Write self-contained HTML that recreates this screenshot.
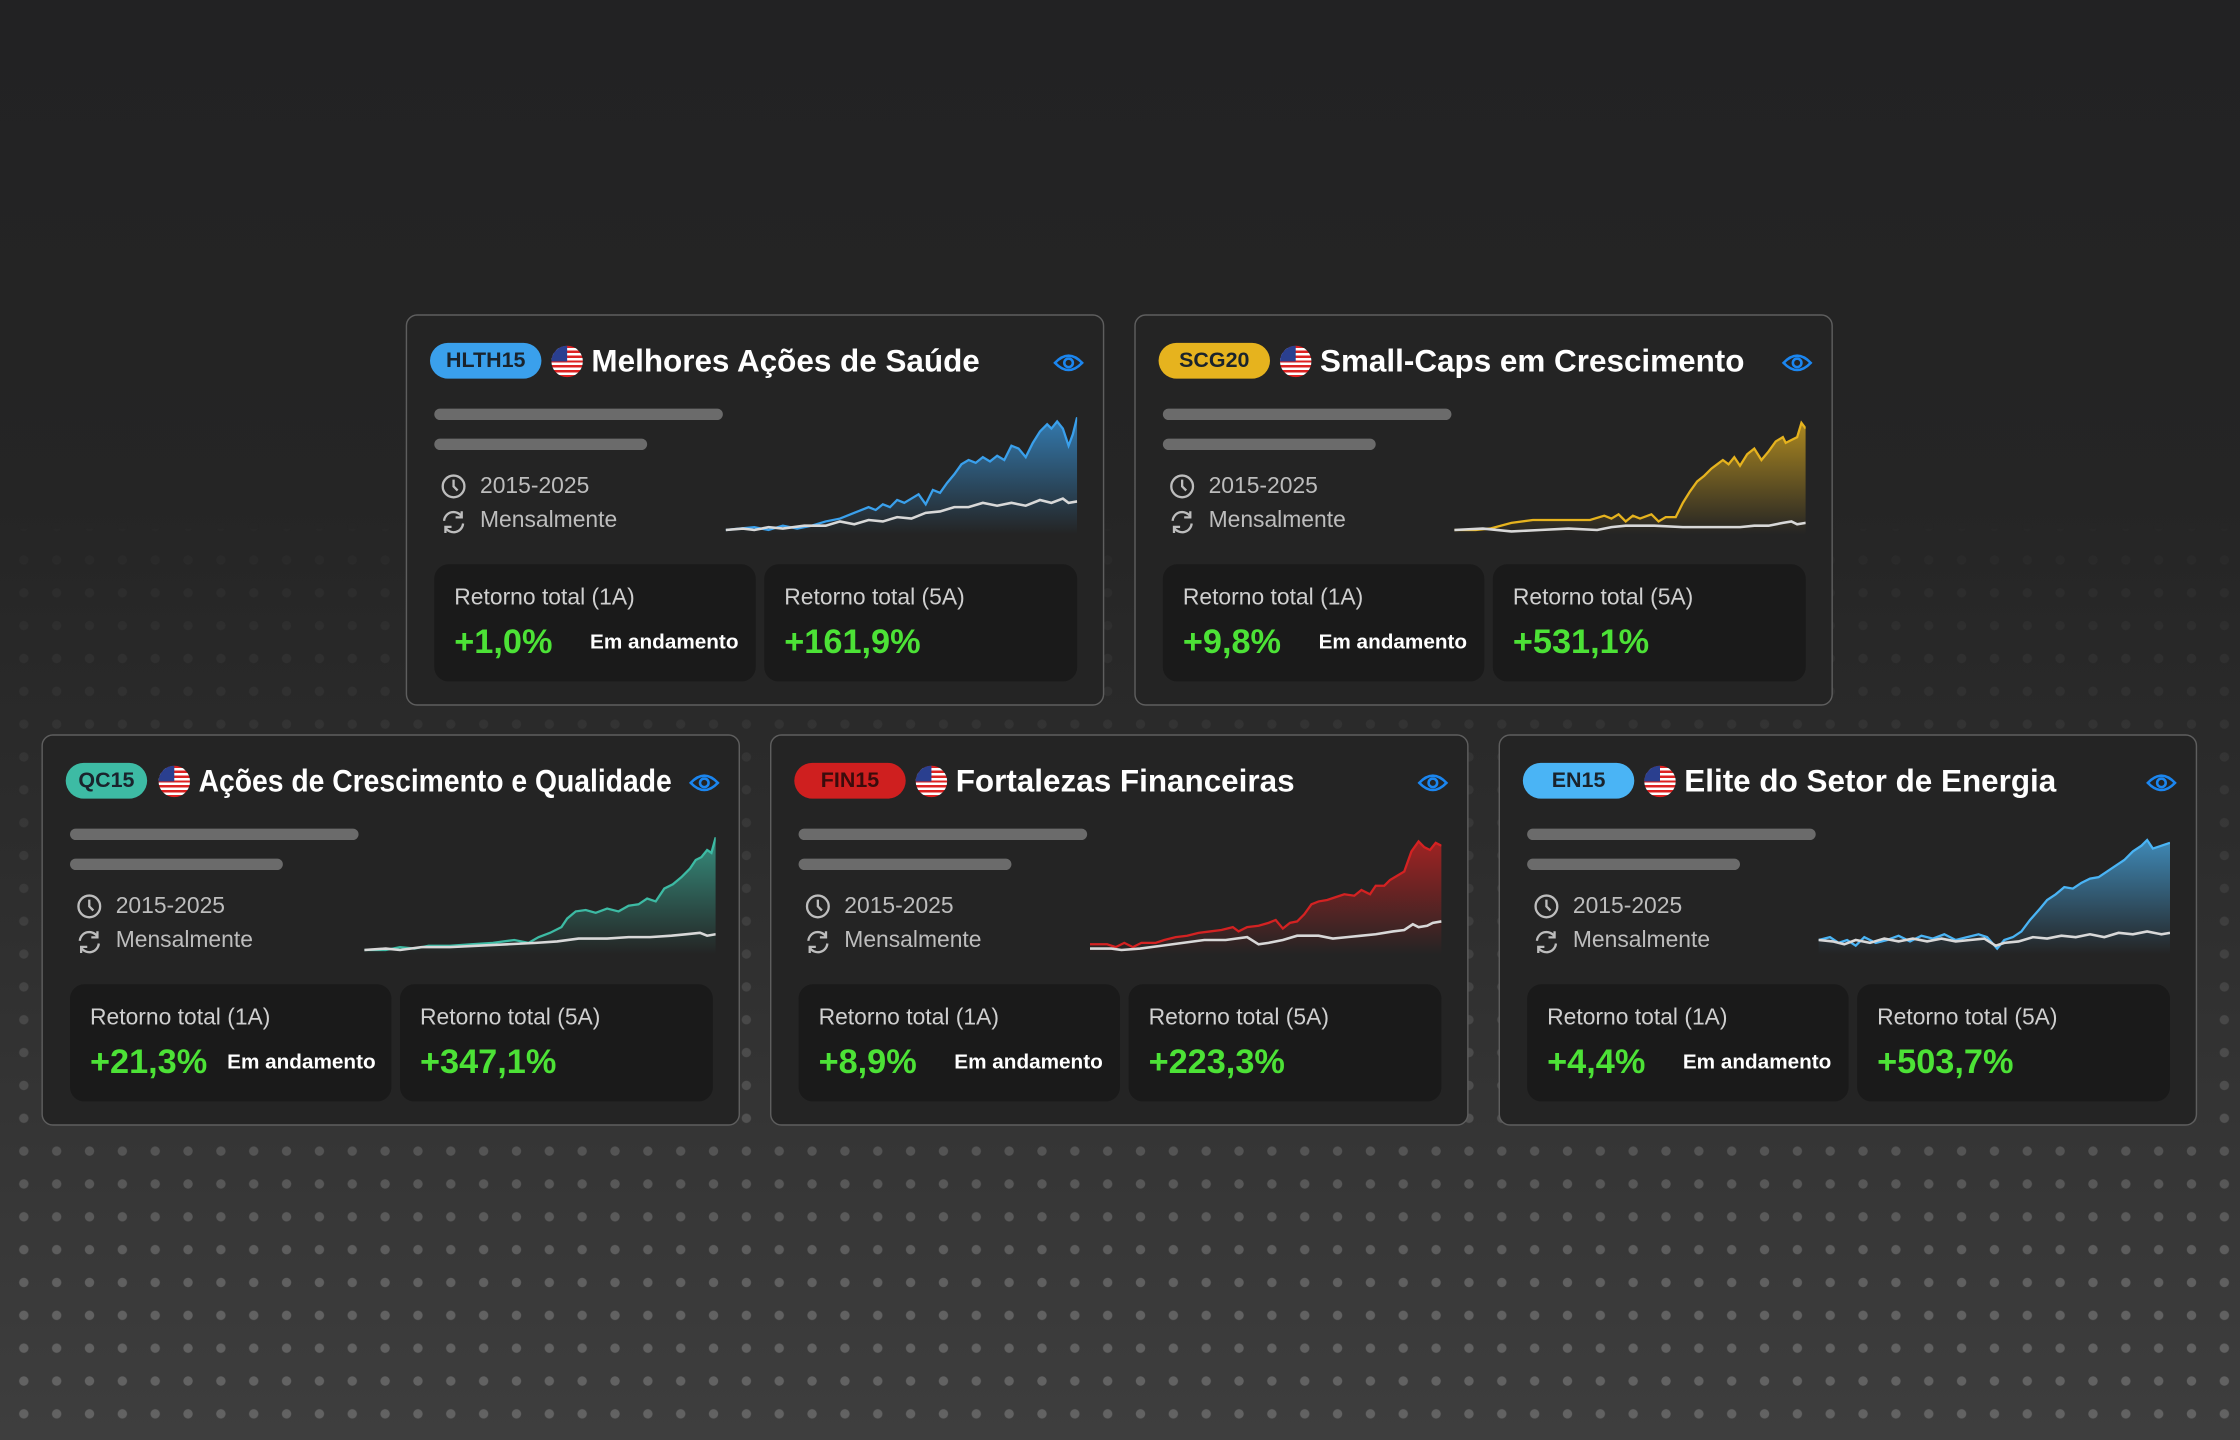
<!DOCTYPE html>
<html><head><meta charset="utf-8">
<style>
html,body{margin:0;padding:0;width:2240px;height:1440px;overflow:hidden;}
body{background:linear-gradient(180deg,#222223 0%,#252525 35%,#2d2d2d 60%,#3e3e3e 100%);font-family:"Liberation Sans",Arial,sans-serif;}
#dots{position:absolute;left:0;top:0;width:2240px;height:1440px;
background-image:radial-gradient(circle,rgba(130,130,130,0.55) 0,rgba(130,130,130,0.55) 4.3px,transparent 5px);
background-size:32.857px 32.857px;background-position:7.4px 18px;
-webkit-mask-image:linear-gradient(180deg,transparent 0,transparent 510px,rgba(0,0,0,0.12) 580px,rgba(0,0,0,0.3) 900px,rgba(0,0,0,0.75) 1150px,#000 1300px);
mask-image:linear-gradient(180deg,transparent 0,transparent 510px,rgba(0,0,0,0.12) 580px,rgba(0,0,0,0.3) 900px,rgba(0,0,0,0.75) 1150px,#000 1300px);}
#w{position:absolute;left:0;top:0;width:1568px;height:1008px;transform:scale(1.4285714);transform-origin:0 0;}
.card{position:absolute;width:487px;height:272px;background:#242424;border:1.5px solid #5e5e5e;border-radius:8px;}
.badge{position:absolute;left:16px;top:19px;height:25px;border-radius:13px;font-weight:bold;font-size:15px;line-height:25px;text-align:center;color:#1a232c;}
.flag{position:absolute;left:101px;top:21px;width:22px;height:22px;border-radius:50%;overflow:hidden;
background:repeating-linear-gradient(180deg,#d22 0,#d22 1.7px,#fff 1.7px,#fff 3.4px);}
.flag:after{content:"";position:absolute;left:0;top:0;width:11px;height:11px;background:#2a3f8f;}
.title{position:absolute;left:129px;top:19px;font-size:22px;font-weight:bold;color:#fff;line-height:26px;white-space:nowrap;transform-origin:0 50%;}
.eye{position:absolute;left:452px;top:24px;}
.bar{position:absolute;left:19px;height:8px;border-radius:4px;background:#6b6b6b;}
.meta{position:absolute;left:51px;font-size:16px;color:#bdbdbd;line-height:18px;}
.ic{position:absolute;left:23px;}
.chart{position:absolute;left:223px;top:71px;}
.stat{position:absolute;top:174px;height:82px;background:#1a1a1a;border-radius:10px;}
.lab{position:absolute;left:14px;top:15px;font-size:16px;color:#cfcfcf;line-height:18px;white-space:nowrap;}
.val{position:absolute;left:14px;top:41px;font-size:24px;font-weight:bold;color:#4ce236;line-height:28px;}
.em{position:absolute;left:109px;top:47px;font-size:14.5px;font-weight:bold;color:#fff;line-height:17px;white-space:nowrap;}
</style></head><body>
<div id="dots"></div>
<div id="w">
<svg width="0" height="0" style="position:absolute">
<defs>
<symbol id="eye" viewBox="0 0 22 18"><path d="M1.5 9 Q11 -1 20.5 9 Q11 19 1.5 9 Z" fill="none" stroke="#1b86f0" stroke-width="1.8"/><circle cx="11" cy="9" r="3" fill="none" stroke="#1b86f0" stroke-width="1.8"/></symbol>
<symbol id="clk" viewBox="0 0 20 20"><circle cx="10" cy="10" r="8" fill="none" stroke="#bdbdbd" stroke-width="1.7"/><path d="M10 5 V10 L13 13" fill="none" stroke="#bdbdbd" stroke-width="1.7"/></symbol>
<symbol id="ref" viewBox="0 0 20 20"><path d="M3 9 A7 7 0 0 1 16 6" fill="none" stroke="#bdbdbd" stroke-width="1.7"/><path d="M16 2 V6.5 H11.5" fill="none" stroke="#bdbdbd" stroke-width="1.7"/><path d="M17 11 A7 7 0 0 1 4 14" fill="none" stroke="#bdbdbd" stroke-width="1.7"/><path d="M4 18 V13.5 H8.5" fill="none" stroke="#bdbdbd" stroke-width="1.7"/></symbol>
<linearGradient id="gb" x1="0" y1="0" x2="0" y2="1"><stop offset="0" stop-color="#3aa0ec" stop-opacity="0.7"/><stop offset="1" stop-color="#3aa0ec" stop-opacity="0"/></linearGradient>
<linearGradient id="gy" x1="0" y1="0" x2="0" y2="1"><stop offset="0" stop-color="#e6b31e" stop-opacity="0.7"/><stop offset="1" stop-color="#e6b31e" stop-opacity="0"/></linearGradient>
<linearGradient id="gt" x1="0" y1="0" x2="0" y2="1"><stop offset="0" stop-color="#3dbba4" stop-opacity="0.7"/><stop offset="1" stop-color="#3dbba4" stop-opacity="0"/></linearGradient>
<linearGradient id="gr" x1="0" y1="0" x2="0" y2="1"><stop offset="0" stop-color="#d42222" stop-opacity="0.7"/><stop offset="1" stop-color="#d42222" stop-opacity="0"/></linearGradient>
<linearGradient id="gc" x1="0" y1="0" x2="0" y2="1"><stop offset="0" stop-color="#4ab4f5" stop-opacity="0.7"/><stop offset="1" stop-color="#4ab4f5" stop-opacity="0"/></linearGradient>
</defs></svg>

<!-- Card 1 -->
<div class="card" style="left:284px;top:220px">
<div class="badge" style="width:78px;background:#3aa0ec">HLTH15</div><div class="flag"></div>
<div class="title">Melhores Ações de Saúde</div>
<svg class="eye" width="22" height="18"><use href="#eye"/></svg>
<div class="bar" style="top:65px;width:202px"></div><div class="bar" style="top:86px;width:149px"></div>
<svg class="ic" style="top:110px" width="19" height="19"><use href="#clk"/></svg><div class="meta" style="top:111px">2015-2025</div>
<svg class="ic" style="top:135px" width="19" height="19"><use href="#ref"/></svg><div class="meta" style="top:135px">Mensalmente</div>
<svg class="chart" width="246" height="82"><path d="M0,79 L10,78 20,77 30,79 40,76 50,78 60,76 70,73 80,71 90,67 100,63 105,65 110,61 115,63 120,58 125,60 130,57 135,54 140,61 145,51 150,53 155,46 160,40 165,33 170,30 175,32 180,28 185,31 190,27 195,30 200,20 205,22 210,28 215,18 220,10 225,5 228,8 232,3 236,8 240,20 243,12 246,0 L246,82 L0,82Z" fill="url(#gb)"/><polyline points="0,79 10,78 20,77 30,79 40,76 50,78 60,76 70,73 80,71 90,67 100,63 105,65 110,61 115,63 120,58 125,60 130,57 135,54 140,61 145,51 150,53 155,46 160,40 165,33 170,30 175,32 180,28 185,31 190,27 195,30 200,20 205,22 210,28 215,18 220,10 225,5 228,8 232,3 236,8 240,20 243,12 246,0" fill="none" stroke="#3aa0ec" stroke-width="1.6"/><polyline points="0,79 12,78 20,79 30,77 40,78 55,76 70,76 80,73 90,75 100,72 110,73 120,70 130,71 140,67 150,66 160,63 170,63 180,60 190,62 200,60 210,62 220,58 228,60 236,57 240,60 246,59" fill="none" stroke="#d8d8d8" stroke-width="1.8"/></svg>
<div class="stat" style="left:19px;width:225px"><div class="lab">Retorno total (1A)</div><div class="val">+1,0%</div><div class="em">Em andamento</div></div>
<div class="stat" style="left:250px;width:219px"><div class="lab">Retorno total (5A)</div><div class="val">+161,9%</div></div>
</div>

<!-- Card 2 -->
<div class="card" style="left:794px;top:220px">
<div class="badge" style="width:78px;background:#e6b31e">SCG20</div><div class="flag"></div>
<div class="title">Small-Caps em Crescimento</div>
<svg class="eye" width="22" height="18"><use href="#eye"/></svg>
<div class="bar" style="top:65px;width:202px"></div><div class="bar" style="top:86px;width:149px"></div>
<svg class="ic" style="top:110px" width="19" height="19"><use href="#clk"/></svg><div class="meta" style="top:111px">2015-2025</div>
<svg class="ic" style="top:135px" width="19" height="19"><use href="#ref"/></svg><div class="meta" style="top:135px">Mensalmente</div>
<svg class="chart" width="246" height="82">
<path d="M0,79 L15,79 25,78 40,74 55,72 70,72 95,72 105,69 110,71 115,68 120,73 125,69 130,71 138,68 143,73 148,70 155,70 160,60 165,52 170,45 175,41 180,36 184,33 188,30 192,33 196,28 200,34 205,26 210,22 215,30 220,24 225,17 230,14 232,18 236,16 240,14 243,4 246,8 246,82 L0,82Z" fill="url(#gy)" stroke="none"/>
<polyline points="0,79 15,79 25,78 40,74 55,72 70,72 95,72 105,69 110,71 115,68 120,73 125,69 130,71 138,68 143,73 148,70 155,70 160,60 165,52 170,45 175,41 180,36 184,33 188,30 192,33 196,28 200,34 205,26 210,22 215,30 220,24 225,17 230,14 232,18 236,16 240,14 243,4 246,8" fill="none" stroke="#e6b31e" stroke-width="1.6"/>
<polyline points="0,79 20,78 40,80 60,79 80,78 100,79 110,77 120,76 140,76 160,77 180,77 200,77 210,76 220,76 230,74 236,73 240,75 246,74" fill="none" stroke="#d8d8d8" stroke-width="1.8"/></svg>
<div class="stat" style="left:19px;width:225px"><div class="lab">Retorno total (1A)</div><div class="val">+9,8%</div><div class="em">Em andamento</div></div>
<div class="stat" style="left:250px;width:219px"><div class="lab">Retorno total (5A)</div><div class="val">+531,1%</div></div>
</div>

<!-- Card 3 -->
<div class="card" style="left:29px;top:514px">
<div class="badge" style="width:57px;background:#3dbba4">QC15</div><div class="flag" style="left:81px"></div>
<div class="title" style="left:109px;transform:scaleX(0.9)">Ações de Crescimento e Qualidade</div>
<svg class="eye" width="22" height="18"><use href="#eye"/></svg>
<div class="bar" style="top:65px;width:202px"></div><div class="bar" style="top:86px;width:149px"></div>
<svg class="ic" style="top:110px" width="19" height="19"><use href="#clk"/></svg><div class="meta" style="top:111px">2015-2025</div>
<svg class="ic" style="top:135px" width="19" height="19"><use href="#ref"/></svg><div class="meta" style="top:135px">Mensalmente</div>
<svg class="chart" style="left:225px" width="246" height="82"><path d="M0,79 L15,79 25,77 35,78 45,76 60,76 75,75 90,74 105,72 115,74 122,70 130,67 138,63 142,57 148,52 155,51 162,53 170,50 178,52 185,48 192,47 198,43 204,45 210,36 216,33 222,28 228,22 232,16 236,14 240,9 243,11 246,0 L246,82 L0,82Z" fill="url(#gt)"/><polyline points="0,79 15,79 25,77 35,78 45,76 60,76 75,75 90,74 105,72 115,74 122,70 130,67 138,63 142,57 148,52 155,51 162,53 170,50 178,52 185,48 192,47 198,43 204,45 210,36 216,33 222,28 228,22 232,16 236,14 240,9 243,11 246,0" fill="none" stroke="#3dbba4" stroke-width="1.6"/><polyline points="0,79 15,78 25,79 40,77 60,77 80,76 100,75 120,74 135,73 150,71 170,71 185,70 200,70 215,69 225,68 235,67 240,69 246,68" fill="none" stroke="#d8d8d8" stroke-width="1.8"/></svg>
<div class="stat" style="left:19px;width:225px"><div class="lab">Retorno total (1A)</div><div class="val">+21,3%</div><div class="em" style="left:110px">Em andamento</div></div>
<div class="stat" style="left:250px;width:219px"><div class="lab">Retorno total (5A)</div><div class="val">+347,1%</div></div>
</div>

<!-- Card 4 -->
<div class="card" style="left:539px;top:514px">
<div class="badge" style="width:78px;background:#cf1f1f;color:#3a0c0c">FIN15</div><div class="flag"></div>
<div class="title">Fortalezas Financeiras</div>
<svg class="eye" width="22" height="18"><use href="#eye"/></svg>
<div class="bar" style="top:65px;width:202px"></div><div class="bar" style="top:86px;width:149px"></div>
<svg class="ic" style="top:110px" width="19" height="19"><use href="#clk"/></svg><div class="meta" style="top:111px">2015-2025</div>
<svg class="ic" style="top:135px" width="19" height="19"><use href="#ref"/></svg><div class="meta" style="top:135px">Mensalmente</div>
<svg class="chart" width="246" height="82"><path d="M0,75 L12,75 18,77 24,74 30,77 36,74 46,74 52,72 60,70 68,69 76,67 84,66 92,65 100,63 104,66 110,63 118,62 125,60 130,58 135,64 140,60 145,59 150,54 155,47 160,45 166,44 172,42 178,40 185,41 190,37 196,40 200,34 206,34 210,30 215,27 220,24 225,10 230,3 234,7 238,9 242,4 246,6 L246,82 L0,82Z" fill="url(#gr)"/><polyline points="0,75 12,75 18,77 24,74 30,77 36,74 46,74 52,72 60,70 68,69 76,67 84,66 92,65 100,63 104,66 110,63 118,62 125,60 130,58 135,64 140,60 145,59 150,54 155,47 160,45 166,44 172,42 178,40 185,41 190,37 196,40 200,34 206,34 210,30 215,27 220,24 225,10 230,3 234,7 238,9 242,4 246,6" fill="none" stroke="#d42222" stroke-width="1.6"/><polyline points="0,78 15,78 22,79 35,78 50,76 65,74 80,72 95,72 110,70 118,75 125,74 135,72 145,69 160,69 170,71 180,70 190,69 200,68 212,66 220,65 226,61 230,63 236,62 240,60 246,59" fill="none" stroke="#d8d8d8" stroke-width="1.8"/></svg>
<div class="stat" style="left:19px;width:225px"><div class="lab">Retorno total (1A)</div><div class="val">+8,9%</div><div class="em">Em andamento</div></div>
<div class="stat" style="left:250px;width:219px"><div class="lab">Retorno total (5A)</div><div class="val">+223,3%</div></div>
</div>

<!-- Card 5 -->
<div class="card" style="left:1049px;top:514px">
<div class="badge" style="width:78px;background:#4ab4f5">EN15</div><div class="flag"></div>
<div class="title">Elite do Setor de Energia</div>
<svg class="eye" width="22" height="18"><use href="#eye"/></svg>
<div class="bar" style="top:65px;width:202px"></div><div class="bar" style="top:86px;width:149px"></div>
<svg class="ic" style="top:110px" width="19" height="19"><use href="#clk"/></svg><div class="meta" style="top:111px">2015-2025</div>
<svg class="ic" style="top:135px" width="19" height="19"><use href="#ref"/></svg><div class="meta" style="top:135px">Mensalmente</div>
<svg class="chart" width="246" height="82"><path d="M0,72 L8,70 14,74 20,72 26,76 32,70 40,74 48,72 56,69 64,73 72,69 80,71 88,68 96,72 104,70 112,68 118,70 125,78 130,72 136,70 142,66 148,58 155,50 160,44 166,40 172,35 178,36 184,32 190,29 196,28 202,24 208,20 214,16 220,10 226,6 230,2 234,8 240,6 246,4 L246,82 L0,82Z" fill="url(#gc)"/><polyline points="0,72 8,70 14,74 20,72 26,76 32,70 40,74 48,72 56,69 64,73 72,69 80,71 88,68 96,72 104,70 112,68 118,70 125,78 130,72 136,70 142,66 148,58 155,50 160,44 166,40 172,35 178,36 184,32 190,29 196,28 202,24 208,20 214,16 220,10 226,6 230,2 234,8 240,6 246,4" fill="none" stroke="#4ab4f5" stroke-width="1.6"/><polyline points="0,72 10,73 18,75 26,72 36,74 46,71 56,73 66,71 76,73 86,71 96,73 106,72 116,71 124,76 130,74 140,73 150,70 160,71 170,69 180,70 190,68 200,70 210,67 220,68 230,66 240,68 246,67" fill="none" stroke="#d8d8d8" stroke-width="1.8"/></svg>
<div class="stat" style="left:19px;width:225px"><div class="lab">Retorno total (1A)</div><div class="val">+4,4%</div><div class="em">Em andamento</div></div>
<div class="stat" style="left:250px;width:219px"><div class="lab">Retorno total (5A)</div><div class="val">+503,7%</div></div>
</div>

</div>
</body></html>
